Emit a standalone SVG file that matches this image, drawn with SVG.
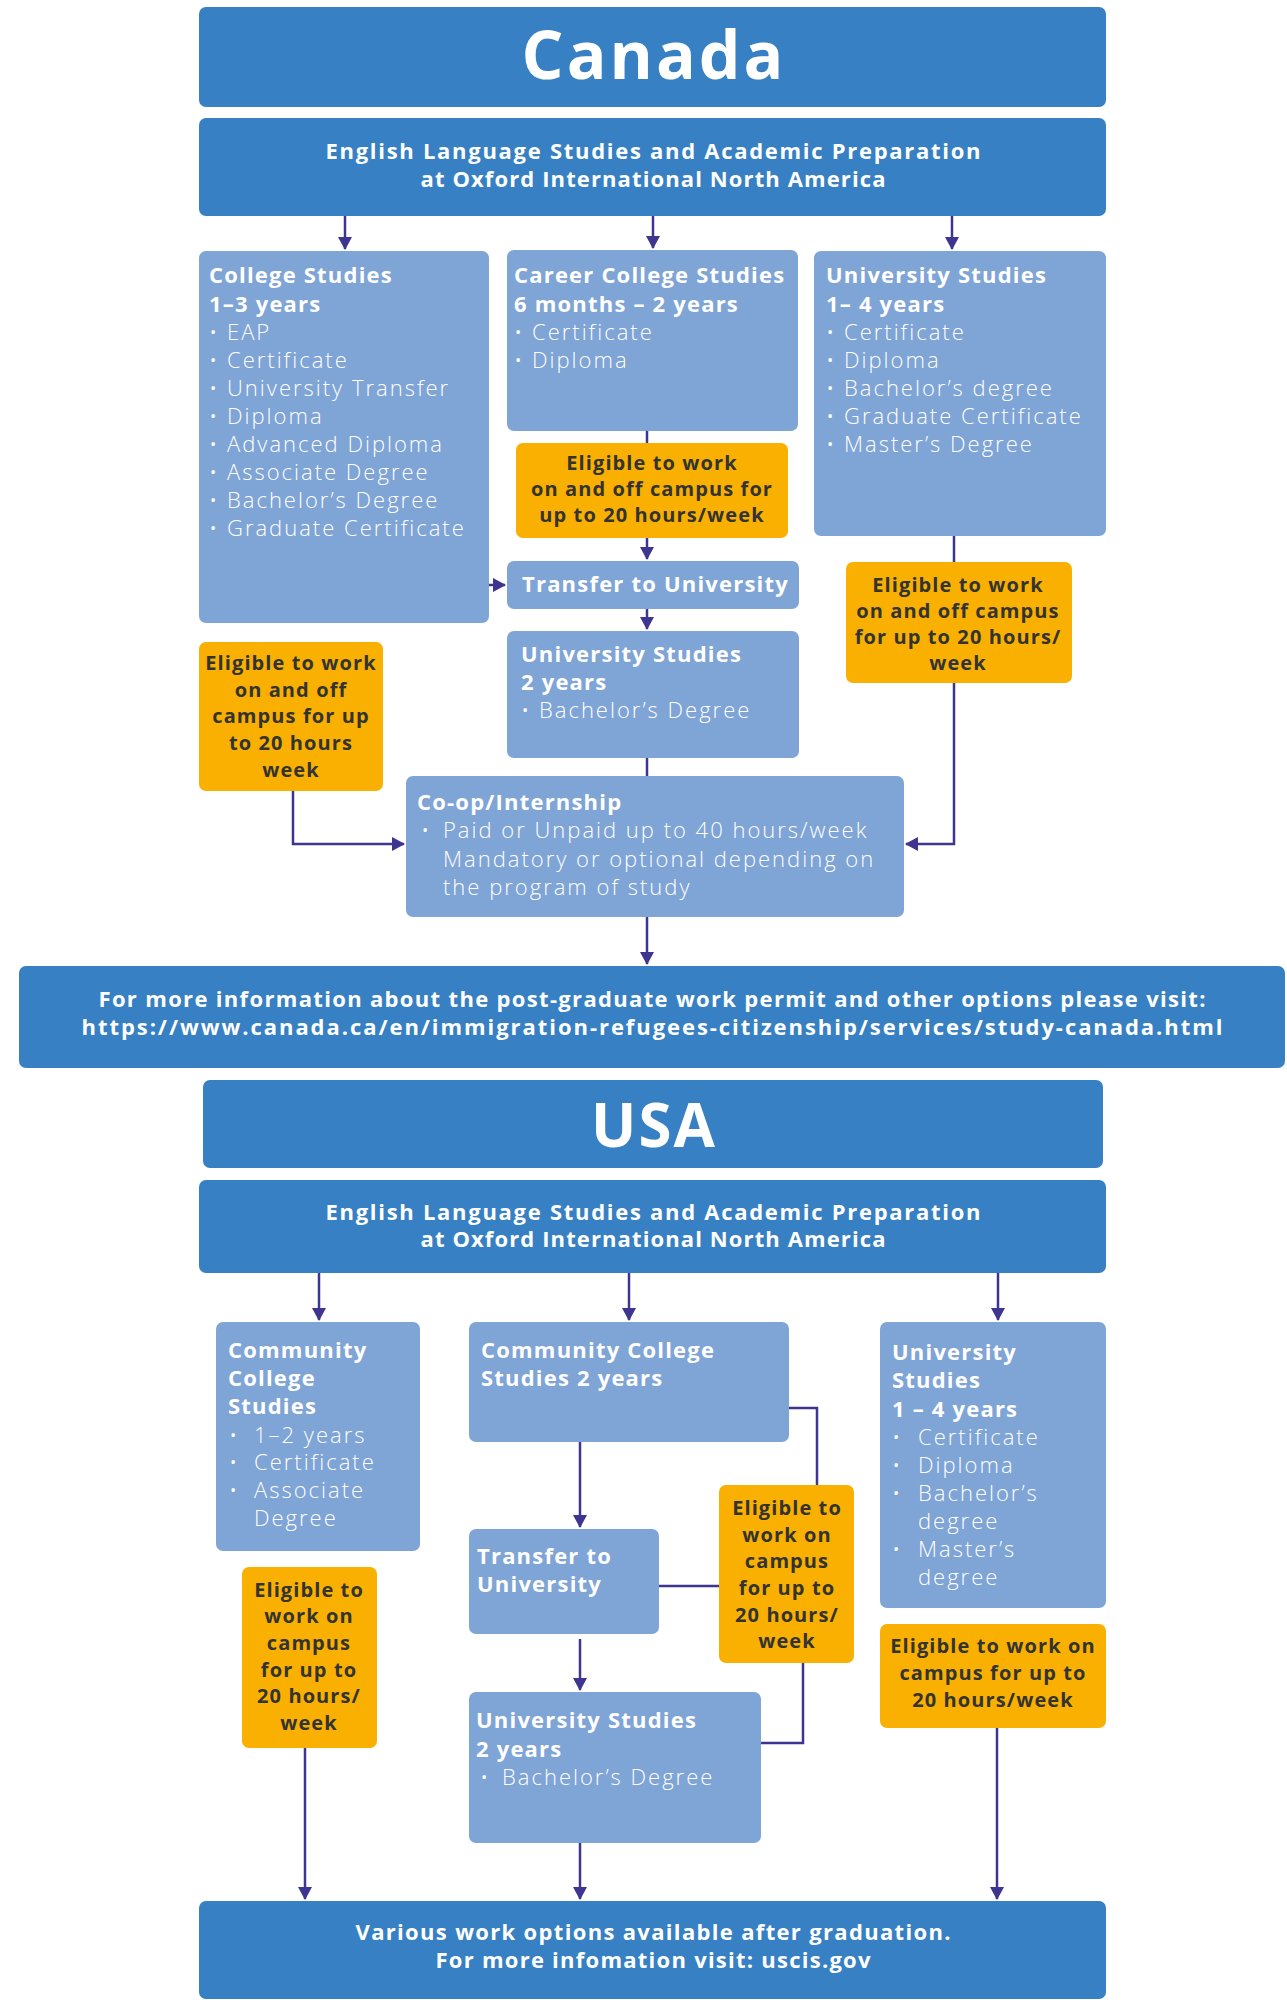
<svg xmlns="http://www.w3.org/2000/svg" width="1287" height="2000" viewBox="0 0 1287 2000">
<style>
  .dk { fill: #3680C3; }
  .lt { fill: #7FA4D6; }
  .or { fill: #F9B000; }
  text { font-family: "Open Sans", "Noto Sans", sans-serif; }
  .big { fill: #fff; font-weight: 700; font-size: 66px; letter-spacing: 3px; text-anchor: middle; }
  .hd { fill: #fff; font-weight: 700; font-size: 22px; text-anchor: middle; }
  .h { fill: #fff; font-weight: 700; font-size: 22px; letter-spacing: 1.2px; }
  .it { fill: #fff; font-weight: 300; font-size: 22px; letter-spacing: 2px; }
  .ot { fill: #333; font-weight: 700; font-size: 20px; letter-spacing: 1.1px; text-anchor: middle; }
  .cn path { fill: none; stroke: #3D3590; stroke-width: 2.5; }
</style>
<defs>
  <marker id="ah" markerUnits="userSpaceOnUse" markerWidth="18" markerHeight="14" refX="12" refY="7" orient="auto">
    <path d="M0,0 L13,7 L0,14 Z" fill="#3D3590"/>
  </marker>
</defs>

<!-- ================= CANADA ================= -->
<g id="canada-title">
  <rect class="dk" x="199" y="7" width="907" height="100" rx="7"/>
  <text class="big" x="654" y="79">Canada</text>
</g>
<g id="canada-english">
  <rect class="dk" x="199" y="118" width="907" height="98" rx="7"/>
  <text class="hd" x="653" y="159" textLength="655" lengthAdjust="spacing">English Language Studies and Academic Preparation</text>
  <text class="hd" x="653" y="187" textLength="465" lengthAdjust="spacing">at Oxford International North America</text>
</g>
<g id="college-studies">
  <rect class="lt" x="199" y="251" width="290" height="372" rx="7"/>
  <text class="h" x="209" y="283">College Studies</text>
  <text class="h" x="209" y="312">1–3 years</text>
  <text class="it" x="209" y="340">• EAP</text>
  <text class="it" x="209" y="368">• Certificate</text>
  <text class="it" x="209" y="396">• University Transfer</text>
  <text class="it" x="209" y="424">• Diploma</text>
  <text class="it" x="209" y="452">• Advanced Diploma</text>
  <text class="it" x="209" y="480">• Associate Degree</text>
  <text class="it" x="209" y="508">• Bachelor’s Degree</text>
  <text class="it" x="209" y="536">• Graduate Certificate</text>
</g>
<g id="career-college">
  <rect class="lt" x="507" y="250" width="291" height="181" rx="7"/>
  <text class="h" x="514" y="283">Career College Studies</text>
  <text class="h" x="514" y="312">6 months – 2 years</text>
  <text class="it" x="514" y="340">• Certificate</text>
  <text class="it" x="514" y="368">• Diploma</text>
</g>
<g id="university-studies-ca">
  <rect class="lt" x="814" y="251" width="292" height="285" rx="7"/>
  <text class="h" x="826" y="283">University Studies</text>
  <text class="h" x="826" y="312">1– 4 years</text>
  <text class="it" x="826" y="340">• Certificate</text>
  <text class="it" x="826" y="368">• Diploma</text>
  <text class="it" x="826" y="396">• Bachelor’s degree</text>
  <text class="it" x="826" y="424">• Graduate Certificate</text>
  <text class="it" x="826" y="452">• Master’s Degree</text>
</g>
<g id="eligible-ca-mid">
  <rect class="or" x="516" y="443" width="272" height="95" rx="7"/>
  <text class="ot" x="652" y="470">Eligible to work</text>
  <text class="ot" x="652" y="496">on and off campus for</text>
  <text class="ot" x="652" y="522">up to 20 hours/week</text>
</g>
<g id="transfer-ca">
  <rect class="lt" x="507" y="561" width="292" height="48" rx="7"/>
  <text class="h" x="522" y="592">Transfer to University</text>
</g>
<g id="university-2-ca">
  <rect class="lt" x="507" y="631" width="292" height="127" rx="7"/>
  <text class="h" x="521" y="662">University Studies</text>
  <text class="h" x="521" y="690">2 years</text>
  <text class="it" x="521" y="718">• Bachelor’s Degree</text>
</g>
<g id="eligible-ca-left">
  <rect class="or" x="199" y="642" width="184" height="149" rx="7"/>
  <text class="ot" x="291" y="670">Eligible to work</text>
  <text class="ot" x="291" y="697">on and off</text>
  <text class="ot" x="291" y="723">campus for up</text>
  <text class="ot" x="291" y="750">to 20 hours</text>
  <text class="ot" x="291" y="777">week</text>
</g>
<g id="eligible-ca-right">
  <rect class="or" x="846" y="562" width="226" height="121" rx="7"/>
  <text class="ot" x="958" y="592">Eligible to work</text>
  <text class="ot" x="958" y="618">on and off campus</text>
  <text class="ot" x="958" y="644">for up to 20 hours/</text>
  <text class="ot" x="958" y="670">week</text>
</g>
<g id="coop">
  <rect class="lt" x="406" y="776" width="498" height="141" rx="7"/>
  <text class="h" x="417" y="810">Co-op/Internship</text>
  <text class="it" x="421" y="838">•</text>
  <text class="it" x="443" y="838">Paid or Unpaid up to 40 hours/week</text>
  <text class="it" x="443" y="867">Mandatory or optional depending on</text>
  <text class="it" x="443" y="895">the program of study</text>
</g>
<g id="info-ca">
  <rect class="dk" x="19" y="966" width="1266" height="102" rx="7"/>
  <text class="hd" x="652" y="1007" textLength="1107" lengthAdjust="spacing">For more information about the post-graduate work permit and other options please visit:</text>
  <text class="hd" x="652" y="1035" textLength="1141" lengthAdjust="spacing">https://www.canada.ca/en/immigration-refugees-citizenship/services/study-canada.html</text>
</g>

<!-- ================= USA ================= -->
<g id="usa-title">
  <rect class="dk" x="203" y="1080" width="900" height="88" rx="7"/>
  <text class="big" x="654" y="1147" style="font-size:60px;letter-spacing:2px">USA</text>
</g>
<g id="usa-english">
  <rect class="dk" x="199" y="1180" width="907" height="93" rx="7"/>
  <text class="hd" x="653" y="1220" textLength="655" lengthAdjust="spacing">English Language Studies and Academic Preparation</text>
  <text class="hd" x="653" y="1247" textLength="465" lengthAdjust="spacing">at Oxford International North America</text>
</g>
<g id="community-college">
  <rect class="lt" x="216" y="1322" width="204" height="229" rx="7"/>
  <text class="h" x="228" y="1358">Community</text>
  <text class="h" x="228" y="1386">College</text>
  <text class="h" x="228" y="1414">Studies</text>
  <text class="it" x="229" y="1443">•</text>
  <text class="it" x="254" y="1443">1–2 years</text>
  <text class="it" x="229" y="1470">•</text>
  <text class="it" x="254" y="1470">Certificate</text>
  <text class="it" x="229" y="1498">•</text>
  <text class="it" x="254" y="1498">Associate</text>
  <text class="it" x="254" y="1526">Degree</text>
</g>
<g id="community-college-2">
  <rect class="lt" x="469" y="1322" width="320" height="120" rx="7"/>
  <text class="h" x="481" y="1358">Community College</text>
  <text class="h" x="481" y="1386">Studies 2 years</text>
</g>
<g id="university-studies-us">
  <rect class="lt" x="880" y="1322" width="226" height="286" rx="7"/>
  <text class="h" x="892" y="1360">University</text>
  <text class="h" x="892" y="1388">Studies</text>
  <text class="h" x="892" y="1417">1 – 4 years</text>
  <text class="it" x="892" y="1445">•</text>
  <text class="it" x="918" y="1445">Certificate</text>
  <text class="it" x="892" y="1473">•</text>
  <text class="it" x="918" y="1473">Diploma</text>
  <text class="it" x="892" y="1501">•</text>
  <text class="it" x="918" y="1501">Bachelor’s</text>
  <text class="it" x="918" y="1529">degree</text>
  <text class="it" x="892" y="1557">•</text>
  <text class="it" x="918" y="1557">Master’s</text>
  <text class="it" x="918" y="1585">degree</text>
</g>
<g id="transfer-us">
  <rect class="lt" x="469" y="1529" width="190" height="105" rx="7"/>
  <text class="h" x="477" y="1564">Transfer to</text>
  <text class="h" x="477" y="1592">University</text>
</g>
<g id="eligible-us-mid">
  <rect class="or" x="719" y="1485" width="135" height="178" rx="7"/>
  <text class="ot" x="787" y="1515">Eligible to</text>
  <text class="ot" x="787" y="1542">work on</text>
  <text class="ot" x="787" y="1568">campus</text>
  <text class="ot" x="787" y="1595">for up to</text>
  <text class="ot" x="787" y="1622">20 hours/</text>
  <text class="ot" x="787" y="1648">week</text>
</g>
<g id="eligible-us-left">
  <rect class="or" x="242" y="1567" width="135" height="181" rx="7"/>
  <text class="ot" x="309" y="1597">Eligible to</text>
  <text class="ot" x="309" y="1623">work on</text>
  <text class="ot" x="309" y="1650">campus</text>
  <text class="ot" x="309" y="1677">for up to</text>
  <text class="ot" x="309" y="1703">20 hours/</text>
  <text class="ot" x="309" y="1730">week</text>
</g>
<g id="eligible-us-right">
  <rect class="or" x="880" y="1624" width="226" height="104" rx="7"/>
  <text class="ot" x="993" y="1653">Eligible to work on</text>
  <text class="ot" x="993" y="1680">campus for up to</text>
  <text class="ot" x="993" y="1707">20 hours/week</text>
</g>
<g id="university-2-us">
  <rect class="lt" x="469" y="1692" width="292" height="151" rx="7"/>
  <text class="h" x="476" y="1728">University Studies</text>
  <text class="h" x="476" y="1757">2 years</text>
  <text class="it" x="480" y="1785">•</text>
  <text class="it" x="502" y="1785">Bachelor’s Degree</text>
</g>
<g id="usa-final">
  <rect class="dk" x="199" y="1901" width="907" height="98" rx="7"/>
  <text class="hd" x="653" y="1940" textLength="595" lengthAdjust="spacing">Various work options available after graduation.</text>
  <text class="hd" x="653" y="1968" textLength="435" lengthAdjust="spacing">For more infomation visit: uscis.gov</text>
</g>

<!-- ================= CONNECTORS ================= -->
<g id="connectors" class="cn">
  <path d="M345,216 V249" marker-end="url(#ah)"/>
  <path d="M653,216 V248" marker-end="url(#ah)"/>
  <path d="M952,216 V249" marker-end="url(#ah)"/>
  <path d="M647,431 V443"/>
  <path d="M647,538 V559" marker-end="url(#ah)"/>
  <path d="M489,585 H505" marker-end="url(#ah)"/>
  <path d="M647,609 V629" marker-end="url(#ah)"/>
  <path d="M647,758 V776"/>
  <path d="M293,791 V844 H404" marker-end="url(#ah)"/>
  <path d="M954,536 V562"/>
  <path d="M954,683 V844 H906" marker-end="url(#ah)"/>
  <path d="M647,917 V964" marker-end="url(#ah)"/>

  <path d="M319,1273 V1320" marker-end="url(#ah)"/>
  <path d="M629,1273 V1320" marker-end="url(#ah)"/>
  <path d="M998,1273 V1320" marker-end="url(#ah)"/>
  <path d="M580,1442 V1527" marker-end="url(#ah)"/>
  <path d="M789,1408 H817 V1485"/>
  <path d="M659,1586 H719"/>
  <path d="M803,1663 V1743 H761"/>
  <path d="M580,1639 V1690" marker-end="url(#ah)"/>
  <path d="M305,1748 V1899" marker-end="url(#ah)"/>
  <path d="M580,1843 V1899" marker-end="url(#ah)"/>
  <path d="M997,1728 V1899" marker-end="url(#ah)"/>
</g>
</svg>
